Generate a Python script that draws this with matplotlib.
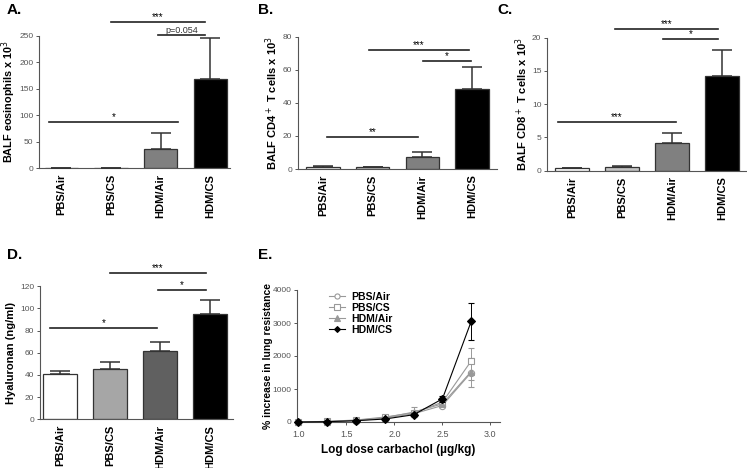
import numpy as np
import matplotlib
matplotlib.use("Agg")
import matplotlib.pyplot as plt
from matplotlib.lines import Line2D

plt.rcParams['font.family'] = ['Liberation Sans', 'DejaVu Sans']

groups = ['PBS/Air', 'PBS/CS', 'HDM/Air', 'HDM/CS']
bar_colors = ['white', '#c4c4c4', '#808080', 'black']
bar_colors_d = ['white', '#a6a6a6', '#606060', 'black']

# panel A: eosinophils
eos_mean = [1.0, 0.3, 37, 168]
eos_err = [0.5, 0.2, 29, 77]
# panel B: CD4
cd4_mean = [1.5, 1.0, 7.2, 48.5]
cd4_err = [0.3, 0.3, 2.8, 13]
# panel C: CD8
cd8_mean = [0.35, 0.6, 4.2, 14.2]
cd8_err = [0.1, 0.1, 1.5, 4.0]
# panel D: hyaluronan
hya_mean = [41, 45.5, 61.5, 95]
hya_err = [3, 6, 8, 13]

# panel E: lung resistance
log_dose = [1.0, 1.3, 1.6, 1.9, 2.2, 2.5, 2.8]
pbs_air = [0, 10, 40, 120, 250, 500, 1500]
pbs_air_err = [5, 10, 20, 30, 60, 60, 450]
pbs_cs = [0, 20, 60, 150, 280, 600, 1850]
pbs_cs_err = [5, 10, 20, 40, 60, 80, 400]
hdm_air = [0, 15, 50, 130, 300, 550, 1530]
hdm_air_err = [5, 10, 20, 40, 160, 80, 250]
hdm_cs = [0, 10, 40, 90, 220, 700, 3050]
hdm_cs_err = [5, 10, 15, 30, 50, 100, 570]

W, H = 747, 468
fig = plt.figure(figsize=(W / 100, H / 100), dpi=100)


def px_axes(left, right, bottom, top):
    ax = fig.add_axes([left / W, 1 - bottom / H, (right - left) / W, (bottom - top) / H])
    ax._px = (left, right)
    return ax


def style_axes(ax):
    for s in ['top', 'right']:
        ax.spines[s].set_visible(False)
    for s in ['left', 'bottom']:
        ax.spines[s].set_color('#555555')
        ax.spines[s].set_linewidth(0.8)
    ax.tick_params(axis='y', labelsize=6, labelcolor='#555555', color='#555555',
                   length=2.5, width=0.7, pad=1.5)


def place_ylabel(ax, xpx):
    left, right = ax._px
    ax.yaxis.set_label_coords((xpx - left) / (right - left), 0.5)


def bar_panel(ax, means, errs, colors, ylim, yticks, ylabel, xlim):
    x = np.arange(len(groups))
    ax.bar(x, means, width=0.67, color=colors, edgecolor='#333333', linewidth=0.9, zorder=2)
    ax.errorbar(x, means, yerr=[np.zeros(len(errs)), errs], fmt='none', ecolor='#333333',
                elinewidth=1.1, capsize=7, capthick=1.1, zorder=3)
    ax.set_xlim(*xlim)
    ax.set_ylim(*ylim)
    ax.set_yticks(yticks)
    ax.set_xticks(x)
    ax.set_xticklabels(groups, rotation=90, fontsize=8, fontweight='bold')
    ax.tick_params(axis='x', length=0, pad=4)
    ax.set_ylabel(ylabel, fontsize=8, fontweight='bold')
    style_axes(ax)


def sig(ax, x0, x1, y, text, size=7, color='black'):
    ax.plot([x0, x1], [y, y], color='#222222', lw=1.2, clip_on=False)
    ax.text((x0 + x1) / 2, y, text, ha='center', va='bottom', fontsize=size, color=color)


# A
axA = px_axes(39, 230, 168.3, 35.7)
bar_panel(axA, eos_mean, eos_err, bar_colors, (0, 250), [0, 50, 100, 150, 200, 250],
          'BALF eosinophils x 10$^3$', (-0.45, 3.4))
axA.yaxis.label.set_fontsize(7.8)
place_ylabel(axA, 18)
sig(axA, -0.25, 2.35, 87, '*')
sig(axA, 1.0, 2.9, 275, '***')
sig(axA, 1.95, 2.9, 252, 'p=0.054', size=6.5, color='#333333')

# B
axB = px_axes(298, 497, 169, 36.7)
bar_panel(axB, cd4_mean, cd4_err, bar_colors, (0, 80), [0, 20, 40, 60, 80],
          'BALF CD4$^+$ T cells x 10$^3$', (-0.5, 3.5))
place_ylabel(axB, 280)
sig(axB, 0.08, 1.92, 19.3, '**')
sig(axB, 0.92, 2.94, 72, '***')
sig(axB, 2.02, 2.98, 65.3, '*')

# C
axC = px_axes(547, 747, 170.7, 37.7)
bar_panel(axC, cd8_mean, cd8_err, bar_colors, (0, 20), [0, 5, 10, 15, 20],
          'BALF CD8$^+$ T cells x 10$^3$', (-0.5, 3.5))
place_ylabel(axC, 530)
sig(axC, -0.28, 2.08, 7.3, '***')
sig(axC, 0.86, 2.92, 21.3, '***')
sig(axC, 1.82, 2.92, 19.8, '*')

# D
axD = px_axes(40, 233, 419.3, 286.3)
bar_panel(axD, hya_mean, hya_err, bar_colors_d, (0, 120), [0, 20, 40, 60, 80, 100, 120],
          'Hyaluronan (ng/ml)', (-0.4, 3.46))
place_ylabel(axD, 16)
sig(axD, -0.2, 1.94, 82, '*')
sig(axD, 1.0, 2.92, 132, '***')
sig(axD, 1.96, 2.92, 117, '*')

# E
axE = px_axes(297, 500, 422, 290)
series = [
    ('PBS/Air', pbs_air, pbs_air_err, 'o', 'white', '#999999', 4.5),
    ('PBS/CS', pbs_cs, pbs_cs_err, 's', 'white', '#999999', 4.5),
    ('HDM/Air', hdm_air, hdm_air_err, '^', '#999999', '#999999', 4.8),
    ('HDM/CS', hdm_cs, hdm_cs_err, 'D', 'black', 'black', 3.8),
]
handles = []
for name, vals, errs, mk, fc, col, ms in series:
    axE.errorbar(log_dose, vals, yerr=errs, color=col, ecolor=col, marker=mk,
                 markersize=ms, markerfacecolor=fc, markeredgecolor=col,
                 markeredgewidth=0.8, lw=0.8, elinewidth=0.7, capsize=2.5, capthick=0.7,
                 clip_on=False, zorder=3 if name == 'HDM/CS' else 2)
    handles.append(Line2D([], [], color=col, marker=mk, markersize=ms - 0.8,
                          markerfacecolor=fc, markeredgecolor=col, markeredgewidth=0.8,
                          lw=0.8, label=name))
axE.set_xlim(0.985, 3.1)
axE.set_ylim(0, 4000)
axE.set_xticks([1.0, 1.5, 2.0, 2.5, 3.0])
axE.set_yticks([0, 1000, 2000, 3000, 4000])
style_axes(axE)
axE.tick_params(axis='x', labelsize=6.5, labelcolor='#555555', color='#555555',
                length=2.5, width=0.7)
axE.set_xlabel('Log dose carbachol (µg/kg)', fontsize=8.5, fontweight='bold', labelpad=3)
axE.set_ylabel('% increase in lung resistance', fontsize=7.5, fontweight='bold')
place_ylabel(axE, 273)
axE.legend(handles=handles, loc='upper left', bbox_to_anchor=(0.16, 0.985), frameon=False,
           prop={'weight': 'bold', 'size': 7.5}, handlelength=1.5, handletextpad=0.6,
           labelspacing=0.1, borderaxespad=0, borderpad=0)

# panel letters
for label, x, y in [('A.', 7, 10), ('B.', 258, 10), ('C.', 497, 10), ('D.', 7, 255), ('E.', 258, 255)]:
    fig.text(x / W, 1 - y / H, label, fontsize=11, fontweight='bold', va='center', ha='left')

fig.savefig('out.png', dpi=100)
